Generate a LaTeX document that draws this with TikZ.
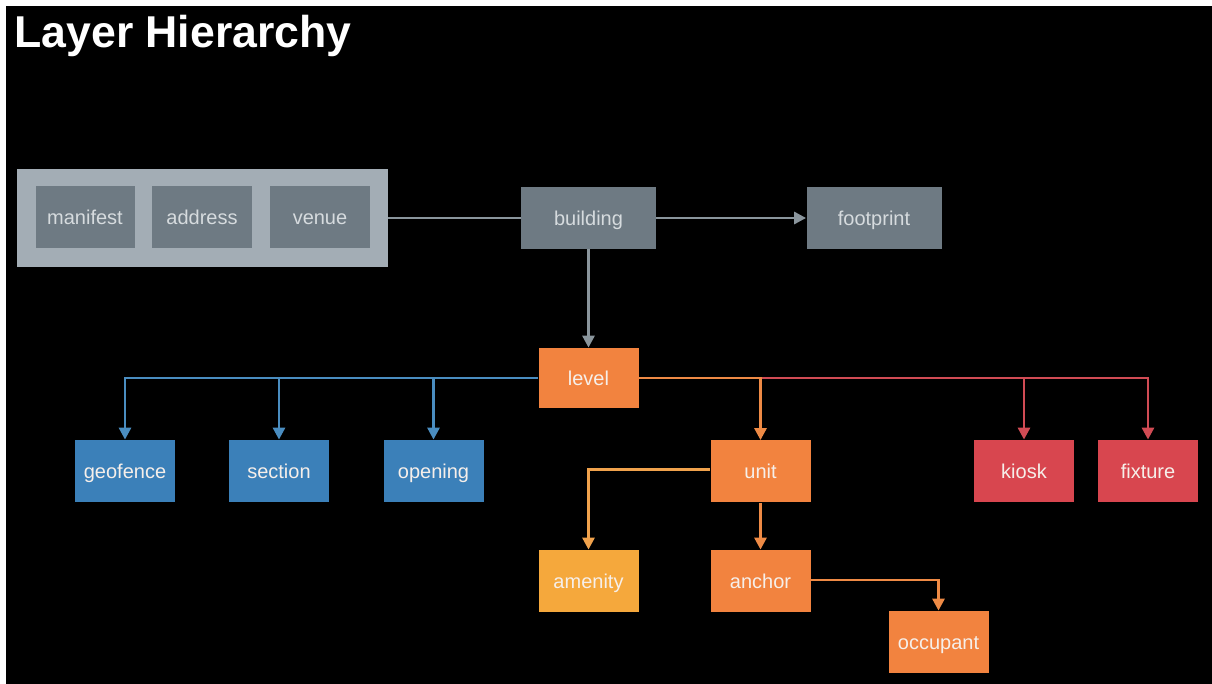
\documentclass[tikz,border=0pt]{standalone}
\usepackage{fontspec}
\setmainfont{Liberation Sans}
\usetikzlibrary{arrows.meta}

\definecolor{grpfill}{HTML}{A3ADB5}
\definecolor{grayfill}{HTML}{6E7A83}
\definecolor{grayline}{HTML}{8A959C}
\definecolor{graytext}{HTML}{D6DBDE}
\definecolor{bluefill}{HTML}{3B80B9}
\definecolor{blueline}{HTML}{4A8DC0}
\definecolor{orangefill}{HTML}{F2833F}
\definecolor{orangeline}{HTML}{EE8A45}
\definecolor{amberfill}{HTML}{F5A83C}
\definecolor{amberline}{HTML}{F0A24C}
\definecolor{redfill}{HTML}{D8464F}
\definecolor{redline}{HTML}{D14B54}
\definecolor{boxtext}{HTML}{F6EFEA}

\tikzset{
  box/.style={minimum width=50pt, minimum height=31pt, inner sep=0pt,
    text height=9pt, text depth=1.9pt,
    font=\fontsize{10}{12}\selectfont, text=boxtext},
  graybox/.style={box, fill=grayfill, text=graytext},
  widebox/.style={graybox, minimum width=67.5pt},
  bluebox/.style={box, fill=bluefill},
  orangebox/.style={box, fill=orangefill},
  amberbox/.style={box, fill=amberfill},
  redbox/.style={box, fill=redfill},
  link/.style={line width=1.45pt},
  tip/.style={-{Triangle[length=6pt,width=6pt]}},
}

\begin{document}
\begin{tikzpicture}[x=0.5pt, y=-0.5pt]
  % page and dark backdrop
  \useasboundingbox (0,0) rectangle (1212,684);
  \fill[white] (0,0) rectangle (1212,684);
  \fill[black] (6,6) rectangle (1212,684);

  % heading
  \node[anchor=base west, inner sep=0pt, text=white,
        font=\fontsize{22.3}{25}\selectfont\bfseries] (title) at (14,48) {Layer Hierarchy};

  % venue group
  \node[fill=grpfill, minimum width=185.5pt, minimum height=49pt, inner sep=0pt] (group) at (202,218) {};
  \node[graybox, minimum width=49.5pt] (manifest) at (85,217.5) {manifest};
  \node[graybox] (address) at (202,217.5) {address};
  \node[graybox] (venue) at (320,217.5) {venue};

  % top row
  \node[widebox] (building) at (588.5,218) {building};
  \node[widebox] (footprint) at (874,218) {footprint};

  % level
  \node[orangebox, minimum height=30pt] (level) at (588.5,378) {level};

  % level children
  \node[bluebox] (geofence) at (125,471) {geofence};
  \node[bluebox] (section) at (279,471) {section};
  \node[bluebox] (opening) at (433.5,471) {opening};
  \node[orangebox] (unit) at (760.5,471.5) {unit};
  \node[redbox] (kiosk) at (1024,471) {kiosk};
  \node[redbox] (fixture) at (1148,471) {fixture};

  % unit children
  \node[amberbox] (amenity) at (588.5,581) {amenity};
  \node[orangebox] (anchor) at (760.5,581) {anchor};
  \node[orangebox] (occupant) at (938.5,642) {occupant};

  % gray connectors
  \draw[link, grayline] (group.east) -- (building.west);
  \draw[link, grayline, tip] (building.east) -- (footprint.west);
  \draw[link, grayline, tip] (building.south) -- (level.north);

  % blue branch
  \draw[link, blueline, tip] (level.west) -| (geofence.north);
  \draw[link, blueline, tip] (level.west -| section.north) -- (section.north);
  \draw[link, blueline, tip] (level.west -| opening.north) -- (opening.north);

  % red branch
  \draw[link, redline, tip] (level.east -| unit.north) -| (fixture.north);
  \draw[link, redline, tip] (level.east -| kiosk.north) -- (kiosk.north);

  % orange branch
  \draw[link, orangeline, tip] (level.east) -| (unit.north);
  \draw[link, amberline, tip] ([yshift=1pt]unit.west) -| (amenity.north);
  \draw[link, orangeline, tip] (unit.south) -- (anchor.north);
  \draw[link, orangeline, tip] ([yshift=0.5pt]anchor.east) -| (occupant.north);
\end{tikzpicture}
\end{document}
